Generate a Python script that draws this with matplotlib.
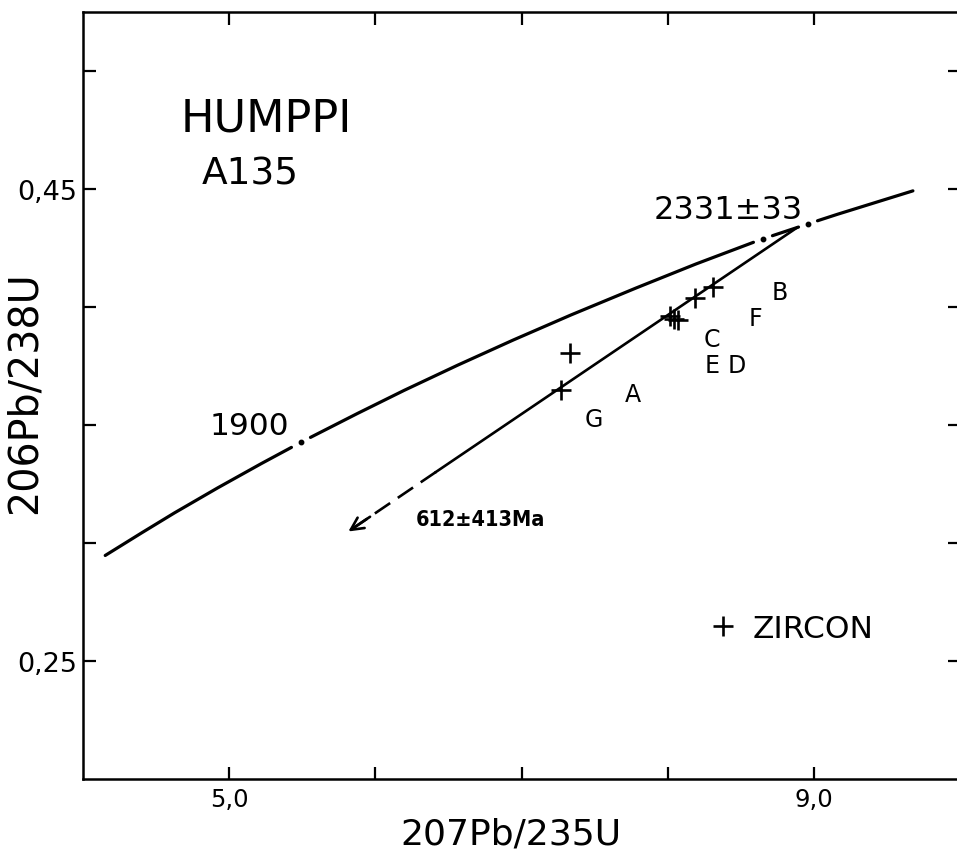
import numpy as np
import matplotlib
matplotlib.use('Agg')
import matplotlib.pyplot as plt

plt.rcParams['font.family'] = ['DejaVu Sans']

# ---- data (207Pb/235U , 206Pb/238U) ----
concordia_x = [4.154, 4.335, 4.604, 4.887, 5.184, 5.496, 5.824, 6.168,
               6.530, 6.910, 7.310, 7.729, 8.170, 8.632, 9.119, 9.675]
concordia_y = [0.2947, 0.3017, 0.3119, 0.3221, 0.3324, 0.3428, 0.3532, 0.3638,
               0.3744, 0.3851, 0.3959, 0.4067, 0.4177, 0.4285, 0.4385, 0.4492]
# positions (207Pb/235U) of the dot marks on the concordia
mark_x = [5.492, 8.650, 8.958]

# discordia: upper intercept -> end of solid part -> arrow tip
discordia_x = [8.88, 6.415, 5.80]
discordia_y = [0.4335, 0.3301, 0.3042]

zircon_x = [8.308, 8.185, 8.014, 8.041, 8.069, 7.331, 7.269]
zircon_y = [0.4085, 0.4038, 0.3962, 0.3949, 0.3945, 0.3805, 0.3648]
zircon_labels = ['B', 'F', 'C', 'E', 'D', 'A', 'G']
label_x = [8.766, 8.602, 8.301, 8.301, 8.472, 7.761, 7.495]
label_y = [0.4064, 0.3953, 0.3864, 0.3754, 0.3754, 0.3631, 0.3525]

x_ticks = [5.0, 6.0, 7.0, 8.0, 9.0]
x_ticklabels = ['5,0', '', '', '', '9,0']
y_ticks = [0.25, 0.30, 0.35, 0.40, 0.45, 0.50]
y_ticklabels = ['0,25', '', '', '', '0,45', '']

# ---- figure ----
fig = plt.figure(figsize=(9.57, 8.54), dpi=100)
ax = fig.add_axes([0.0864, 0.0867, 0.9172, 0.8981])
ax.set_xlim(4.0, 10.0)
ax.set_ylim(0.20, 0.525)

# concordia with gaps and dots at age marks
gap = 0.065
cx = np.array(concordia_x)
cy = np.array(concordia_y)
bounds = [cx[0]]
for m in mark_x:
    bounds += [m - gap, m + gap]
bounds.append(cx[-1])
for a, b in zip(bounds[0::2], bounds[1::2]):
    xs = np.linspace(a, b, 200)
    ax.plot(xs, np.interp(xs, cx, cy), color='black', lw=2.3,
            solid_capstyle='round')
ax.plot(mark_x, np.interp(mark_x, cx, cy), 'o', color='black', ms=3.2)

# discordia
ax.plot(discordia_x[:2], discordia_y[:2], color='black', lw=1.9)
ax.plot(discordia_x[1:], discordia_y[1:], color='black', lw=1.9,
        dashes=(7, 3.5))
ax.annotate('', xy=(discordia_x[2], discordia_y[2]),
            xytext=(discordia_x[2] + 0.18, discordia_y[2] + 0.18 * 0.042),
            arrowprops=dict(arrowstyle='->,head_length=0.9,head_width=0.45',
                            color='black', lw=1.9))

# zircon points
ax.plot(zircon_x, zircon_y, '+', color='black', ms=14, mew=1.9,
        linestyle='none', label='ZIRCON')
for t, lx, ly in zip(zircon_labels, label_x, label_y):
    ax.text(lx, ly, t, fontsize=17, ha='center', va='center')

# annotations
ax.text(5.253, 0.4801, 'HUMPPI', fontsize=32, ha='center', va='center')
ax.text(5.144, 0.4565, 'A135', fontsize=27, ha='center', va='center')
ax.text(8.411, 0.4411, '2331\u00b133', fontsize=23, ha='center', va='center')
ax.text(5.137, 0.3496, '1900', fontsize=22.5, ha='center', va='center')
ax.text(6.722, 0.3102, '612\u00b1413Ma', fontsize=15.5, ha='center',
        va='center', fontweight='bold', fontstretch='condensed')

leg = ax.legend(loc='center left', bbox_to_anchor=(0.7117, 0.1956),
                frameon=False, fontsize=22.5, handlelength=1.0,
                handletextpad=0.46, borderpad=0, borderaxespad=0)

# axes styling
for s in ax.spines.values():
    s.set_linewidth(1.8)
ax.set_xticks(x_ticks)
ax.set_xticklabels(x_ticklabels)
ax.set_yticks(y_ticks)
ax.set_yticklabels(y_ticklabels)
ax.tick_params(direction='in', length=9, width=1.6, top=True, right=True,
               pad=6)
ax.tick_params(axis='x', labelsize=17.5)
ax.tick_params(axis='y', labelsize=19.5, pad=4)
ax.set_xlabel('207Pb/235U', fontsize=26, labelpad=4)
ax.xaxis.label.set_x(0.488)
ax.set_ylabel('206Pb/238U', fontsize=28.5)
ax.yaxis.set_label_coords(-0.043, 0.505)

fig.savefig('out.png', dpi=100)
